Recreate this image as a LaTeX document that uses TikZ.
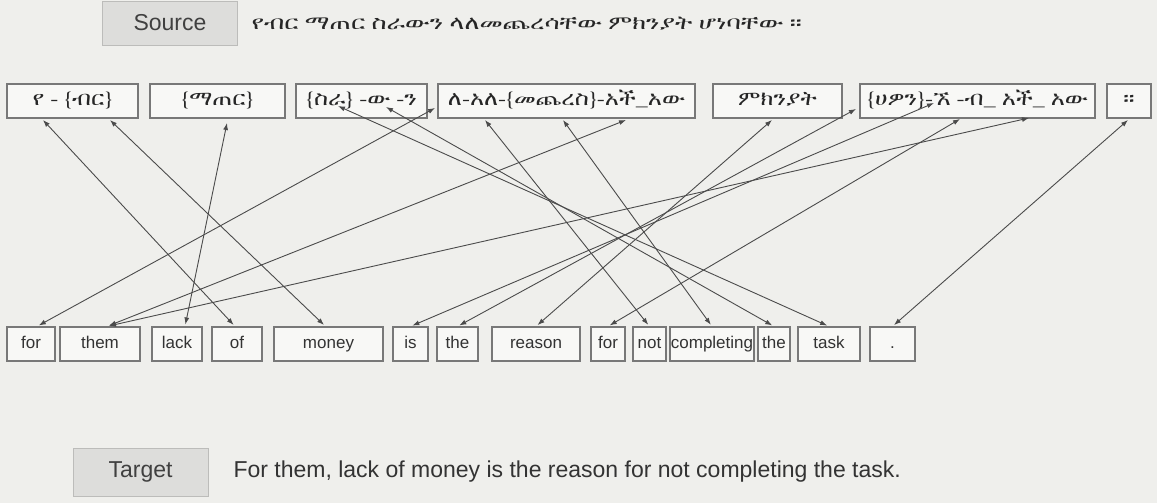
\documentclass[tikz,border=0pt]{standalone}
\usepackage{fontspec}
\setmainfont{Liberation Sans}
\newcommand\setethfonts[1]{%
  \newfontfamily\ethfont[FakeStretch=1.2]{#1}%
  \newfontfamily\ethwide[FakeStretch=1.35]{#1}}
\IfFontExistsTF{FreeSerif}{\setethfonts{FreeSerif}}{%
  \IfFontExistsTF{Noto Sans Ethiopic}{\setethfonts{Noto Sans Ethiopic}}{%
    \IfFontExistsTF{Abyssinica SIL}{\setethfonts{Abyssinica SIL}}{%
      \setethfonts{DejaVu Sans}}}}
\usepackage{tikz}
\usetikzlibrary{arrows.meta,positioning}
\definecolor{bggray}{RGB}{239,239,236}
\definecolor{labelgray}{RGB}{221,221,219}
\definecolor{boxline}{RGB}{120,120,120}
\definecolor{linkgray}{RGB}{75,75,75}
\tikzset{
    >={Latex[length=7pt,width=5pt]},
    tagbox/.style={
        rectangle,
        draw=labelgray!85!black,
        line width=0.8pt,
        fill=labelgray,
        minimum width=135pt,
        font={\fontsize{23}{26}\selectfont},
        text=black!75
    },
    srcword/.style={
        rectangle,
        draw=boxline,
        line width=1.2pt,
        fill=white!55!bggray,
        minimum height=34pt,
        inner sep=0pt,
        text height=14pt,
        text depth=4pt,
        font={\ethfont\fontsize{20}{22}\selectfont},
        text=black!85
    },
    tgtword/.style={
        rectangle,
        draw=boxline,
        line width=1.2pt,
        fill=white!55!bggray,
        minimum height=34pt,
        inner sep=0pt,
        text height=12.5pt,
        text depth=3.5pt,
        font={\fontsize{17}{20}\selectfont},
        text=black!80
    },
    link/.style={<->, draw=linkgray, line width=0.9pt, shorten >=2pt},
}

\begin{document}
\begin{tikzpicture}[x=1pt,y=-1pt]
\fill[bggray] (0,0) rectangle (1157,503);
\useasboundingbox (0,0) rectangle (1157,503);

\node[tagbox,minimum height=44pt] (source) at (170,23) {Source};
\node[anchor=west,font={\ethwide\fontsize{19}{22}\selectfont},text=black!85] (srcsent) at (248,24) {የብር ማጠር ስራውን ላለመጨረሳቸው ምክንያት ሆነባቸው ።};

\node[srcword,minimum width=131pt] (yebir) at (72.5,101) {የ - \{ብር\}};
\node[srcword,minimum width=135pt] (matar) at (217.5,101) {\{ማጠር\}};
\node[srcword,minimum width=131pt] (sira) at (361.5,101) {\{ስራ\} -ው -ን};
\node[srcword,minimum width=257pt] (lale) at (566.5,101) {ለ-አለ-\{መጨረስ\}-አች\_አው};
\node[srcword,minimum width=129pt] (mikniyat) at (777.5,101) {ምክንያት};
\node[srcword,minimum width=235pt] (hone) at (977.5,101) {\{ሀዎን\}-ኧ -ብ\_ አች\_ አው};
\node[srcword,minimum width=44pt] (arat) at (1129,101) {።};

\coordinate (ye) at (43,120);
\coordinate (bir) at (110,120);
\coordinate (mtr) at (227,123);
\coordinate (sra) at (338,106);
\coordinate (w) at (386,107);
\coordinate (le) at (435,108);
\coordinate (ale) at (485,120);
\coordinate (mechers) at (563,120);
\coordinate (achaw) at (626,120);
\coordinate (mkny) at (772,120);
\coordinate (hon) at (856,109);
\coordinate (honbr) at (934,103);
\coordinate (bi) at (960,119);
\coordinate (achaw2) at (1029,118);
\coordinate (stop) at (1128,120);

\node[tgtword,minimum width=48pt] (for1) at (31,344) {for};
\node[tgtword,minimum width=80pt] (them) at (100,344) {them};
\node[tgtword,minimum width=50pt] (lack) at (177,344) {lack};
\node[tgtword,minimum width=50pt] (of) at (237,344) {of};
\node[tgtword,minimum width=109pt] (money) at (328.5,344) {money};
\node[tgtword,minimum width=35pt] (is) at (410.5,344) {is};
\node[tgtword,minimum width=41pt] (the1) at (457.5,344) {the};
\node[tgtword,minimum width=88pt] (reason) at (536,344) {reason};
\node[tgtword,minimum width=34pt] (for2) at (608,344) {for};
\node[tgtword,minimum width=33pt] (not) at (649.5,344) {not};
\node[tgtword,minimum width=84pt] (completing) at (712,344) {completing};
\node[tgtword,minimum width=32pt] (the2) at (774,344) {the};
\node[tgtword,minimum width=62pt] (task) at (829,344) {task};
\node[tgtword,minimum width=45pt] (dot) at (892.5,344) {.};

\node[tagbox,minimum height=48pt] (target) at (140.5,472) {Target};
\node[anchor=west,font={\fontsize{23}{26}\selectfont},text=black!80] (tgtsent) at (230,472) {For them, lack of money is the reason for not completing the task.};

\draw[link] (ye) -- ([xshift=-2pt]of.north);
\draw[link] (bir) -- ([xshift=-3pt]money.north);
\draw[link] (mtr) -- ([xshift=8pt]lack.north);
\draw[link] (sra) -- (task.north);
\draw[link] (w) -- (the2.north);
\draw[link] (le) -- ([xshift=6pt]for1.north);
\draw[link] (ale) -- (not.north);
\draw[link] (mechers) -- (completing.north);
\draw[link] (achaw) -- ([xshift=7pt]them.north);
\draw[link] (mkny) -- (reason.north);
\draw[link] (hon) -- (the1.north);
\draw[link] (honbr) -- (is.north);
\draw[link] (bi) -- (for2.north);
\draw[link] (achaw2) -- ([xshift=7pt]them.north);
\draw[link] (stop) -- (dot.north);
\end{tikzpicture}
\end{document}
